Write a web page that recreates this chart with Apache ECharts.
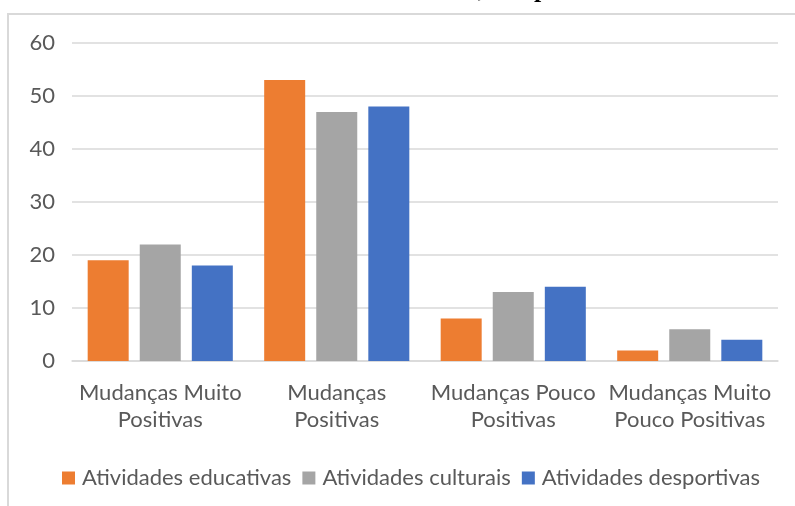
<!DOCTYPE html>
<html>
<head>
<meta charset="utf-8">
<script src="https://cdn.jsdelivr.net/npm/echarts@6/dist/echarts.min.js"></script>
<style>
  html, body { margin: 0; padding: 0; background: #fff; }
  #chart { width: 795px; height: 506px; }
</style>
</head>
<body>
<div id="chart"></div>
<script>
// Categories (two-line axis labels)
const categories = [
  'Mudanças Muito\nPositivas',
  'Mudanças\nPositivas',
  'Mudanças Pouco\nPositivas',
  'Mudanças Muito\nPouco Positivas'
];
const seriesNames = ['Atividades educativas', 'Atividades culturais', 'Atividades desportivas'];
const educativas = [19, 53, 8, 2];
const culturais = [22, 47, 13, 6];
const desportivas = [18, 48, 14, 4];
const yTicks = { min: 0, max: 60, interval: 10 };

const colors = ['#ED7D31', '#A5A5A5', '#4472C4'];
const textColor = '#595959';
const font = 'Lato, "Open Sans", sans-serif';

const chart = echarts.init(document.getElementById('chart'), null, { renderer: 'canvas' });

const values = [educativas, culturais, desportivas];

chart.setOption({
  animation: false,
  color: colors,
  grid: { left: 72, right: 17, top: 43, bottom: 145, containLabel: false },
  legend: {
    data: seriesNames,
    left: 57,
    top: 462,
    itemWidth: 13,
    itemHeight: 13,
    itemGap: 11,
    icon: 'rect',
    textStyle: { color: textColor, fontSize: 22, fontFamily: font, padding: [0, 0, 0, 2] }
  },
  xAxis: {
    type: 'category',
    data: categories,
    axisLine: { show: true, lineStyle: { color: '#d9d9d9', width: 1.5 } },
    axisTick: { show: false },
    axisLabel: {
      color: textColor, fontSize: 22, fontFamily: font,
      lineHeight: 27, margin: 18, interval: 0
    }
  },
  yAxis: {
    type: 'value',
    min: yTicks.min, max: yTicks.max, interval: yTicks.interval,
    axisLine: { show: false },
    axisTick: { show: false },
    splitLine: { lineStyle: { color: '#d9d9d9', width: 1.5 } },
    axisLabel: { color: textColor, fontSize: 22, fontFamily: font, margin: 17 }
  },
  series: seriesNames.map((name, i) => ({
    name,
    type: 'bar',
    data: values[i],
    barWidth: 41,
    barGap: '27%',
    itemStyle: { color: colors[i] }
  })),
  graphic: [
    {
      type: 'rect',
      shape: { x: 8, y: 14, width: 800, height: 500 },
      style: { fill: 'none', stroke: '#d9d9d9', lineWidth: 2 },
      silent: true
    },
    {
      type: 'text',
      x: 478, y: 3,
      style: { text: ',', font: 'bold 26px "Liberation Serif", serif', fill: '#000', verticalAlign: 'bottom' }
    },
    {
      type: 'text',
      x: 534, y: 3,
      style: { text: 'p', font: 'bold 26px "Liberation Serif", serif', fill: '#000', verticalAlign: 'bottom' }
    }
  ]
});
</script>
</body>
</html>
